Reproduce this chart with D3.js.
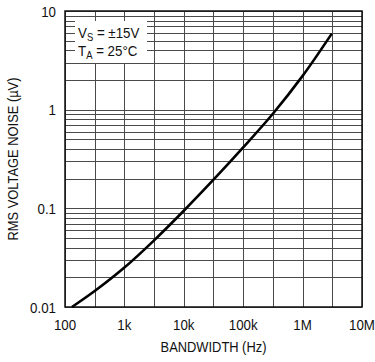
<!DOCTYPE html>
<html>
<head>
<meta charset="utf-8">
<script src="https://cdn.jsdelivr.net/npm/d3@7"></script>
<style>
  body { margin: 0; background: #fff; }
  svg text { font-family: "Liberation Sans", Arial, sans-serif; fill: #111; }
</style>
</head>
<body>
<svg id="chart" width="375" height="362"></svg>
<script>
// bandwidth (Hz) and rms noise (uV)
const bandwidth = [131, 316, 1000, 3160, 10000, 31600, 100000, 316000, 1000000, 3100000];
const noise = [0.01, 0.0145, 0.0251, 0.0474, 0.0945, 0.195, 0.415, 0.91, 2.2, 5.9];

const xTicks = [100, 1e3, 1e4, 1e5, 1e6, 1e7];
const xTickLabels = ['100', '1k', '10k', '100k', '1M', '10M'];
const yTicks = [0.01, 0.1, 1, 10];
const yTickLabels = ['0.01', '0.1', '1', '10'];
const legendLines = [['V', 'S', ' = \u00b115V'], ['T', 'A', ' = 25\u00b0C']];

const svg = d3.select('#chart');
const mLeft = 65, mRight = 362, mTop = 11, mBottom = 307;
const squeeze = 0.86; // narrow face look

const x = d3.scaleLog().domain([100, 1e7]).range([mLeft, mRight]);
const y = d3.scaleLog().domain([0.01, 10]).range([mBottom, mTop]);

// grid: vertical every half decade, horizontal at 1..9 of each decade
const xGrid = d3.range(0, 11).map(i => 100 * Math.pow(10, i / 2));
const yGrid = [];
[0.01, 0.1, 1].forEach(d => { for (let k = 1; k <= 9; k++) yGrid.push(d * k); });
yGrid.push(10);

const grid = svg.append('g').attr('stroke', '#4a4a4a').attr('stroke-width', 1);
grid.selectAll('.vg').data(xGrid).enter().append('line')
  .attr('x1', d => Math.round(x(d)) + 0.5).attr('x2', d => Math.round(x(d)) + 0.5)
  .attr('y1', mTop).attr('y2', mBottom);
grid.selectAll('.hg').data(yGrid).enter().append('line')
  .attr('x1', mLeft).attr('x2', mRight)
  .attr('y1', d => Math.round(y(d)) + 0.5).attr('y2', d => Math.round(y(d)) + 0.5);

// frame
svg.append('rect')
  .attr('x', mLeft).attr('y', mTop)
  .attr('width', mRight - mLeft).attr('height', mBottom - mTop)
  .attr('fill', 'none').attr('stroke', '#111').attr('stroke-width', 1.5);

// curve
const line = d3.line()
  .x((d, i) => x(bandwidth[i]))
  .y(d => y(d))
  .curve(d3.curveCatmullRom);
svg.append('path')
  .datum(noise)
  .attr('d', line)
  .attr('fill', 'none')
  .attr('stroke', '#000')
  .attr('stroke-width', 2.6);

// legend box
svg.append('rect')
  .attr('x', 75).attr('y', 21).attr('width', 72).attr('height', 42)
  .attr('fill', '#fff');
legendLines.forEach((l, i) => {
  const t = svg.append('text')
    .attr('transform', `translate(78,${37.7 + i * 18.5}) scale(${squeeze},1)`)
    .attr('font-size', 15.5);
  t.append('tspan').text(l[0]);
  t.append('tspan').attr('font-size', 11).attr('dy', 3).text(l[1]);
  t.append('tspan').attr('dy', -3).text(l[2]);
});

// tick labels
svg.append('g').selectAll('text').data(xTicks).enter().append('text')
  .attr('transform', d => `translate(${x(d)},330) scale(${squeeze},1)`)
  .attr('text-anchor', 'middle').attr('font-size', 15.5)
  .text((d, i) => xTickLabels[i]);

svg.append('g').selectAll('text').data(yTicks).enter().append('text')
  .attr('transform', d => `translate(56,${y(d) + 5.5}) scale(${squeeze},1)`)
  .attr('text-anchor', 'end').attr('font-size', 15.5)
  .text((d, i) => yTickLabels[i]);

// axis titles
svg.append('text')
  .attr('transform', `translate(${(mLeft + mRight) / 2},351.5) scale(${squeeze},1)`)
  .attr('text-anchor', 'middle').attr('font-size', 15)
  .text('BANDWIDTH (Hz)');

svg.append('text')
  .attr('transform', `translate(17.5,${(mTop + mBottom) / 2}) rotate(-90) scale(${squeeze},1)`)
  .attr('text-anchor', 'middle').attr('font-size', 15)
  .text('RMS VOLTAGE NOISE (\u00b5V)');
</script>
</body>
</html>
